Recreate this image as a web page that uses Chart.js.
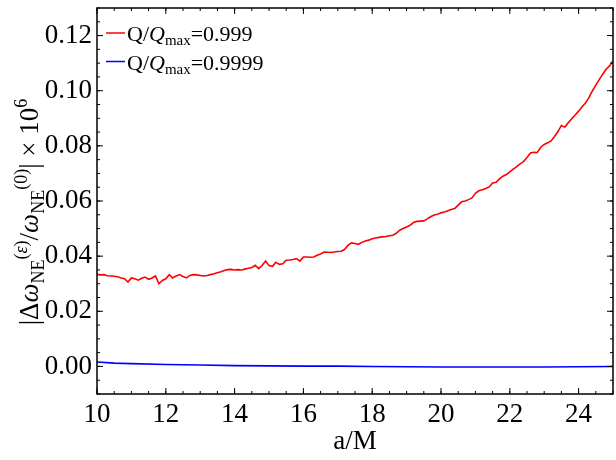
<!DOCTYPE html>
<html>
<head>
<meta charset="utf-8">
<script src="https://cdn.jsdelivr.net/npm/chart.js@4.4.1/dist/chart.umd.min.js"></script>
<style>
  html, body { margin: 0; padding: 0; background: #fff; }
  #chart { display: block; }
</style>
</head>
<body>
<canvas id="chart" width="616" height="460"></canvas>
<script>
// ---- data ----
const aStart = 10, aStep = 0.1;   // red series sampled every 0.1 in a/M
const redValues = [
  0.0334, 0.0332, 0.0333, 0.0329, 0.0328, 0.0327, 0.0325, 0.0321, 0.0318, 0.0306,
  0.0321, 0.0318, 0.0313, 0.0320, 0.0324, 0.0316, 0.0321, 0.0328, 0.0300, 0.0312,
  0.0318, 0.0333, 0.0321, 0.0328, 0.0333, 0.0326, 0.0321, 0.0330, 0.0333, 0.0332,
  0.0330, 0.0328, 0.0330, 0.0333, 0.0336, 0.0340, 0.0343, 0.0348, 0.0351, 0.0352,
  0.0350, 0.0351, 0.0350, 0.0353, 0.0356, 0.0359, 0.0367, 0.0355, 0.0366, 0.0382,
  0.0366, 0.0363, 0.0378, 0.0370, 0.0372, 0.0385, 0.0386, 0.0388, 0.0391, 0.0382,
  0.0397, 0.0397, 0.0396, 0.0397, 0.0403, 0.0408, 0.0415, 0.0414, 0.0413, 0.0415,
  0.0417, 0.0418, 0.0425, 0.0440, 0.0448, 0.0446, 0.0443, 0.0450, 0.0455, 0.0458,
  0.0463, 0.0466, 0.0468, 0.0470, 0.0471, 0.0474, 0.0476, 0.0483, 0.0494, 0.0500,
  0.0506, 0.0512, 0.0522, 0.0526, 0.0527, 0.0528, 0.0535, 0.0543, 0.0549, 0.0552,
  0.0557, 0.0560, 0.0565, 0.0569, 0.0573, 0.0585, 0.0597, 0.0600, 0.0605, 0.0611,
  0.0628, 0.0637, 0.0641, 0.0645, 0.0651, 0.0665, 0.0668, 0.0680, 0.0690, 0.0696,
  0.0706, 0.0716, 0.0725, 0.0735, 0.0743, 0.0758, 0.0774, 0.0777, 0.0776, 0.0795,
  0.0805, 0.0811, 0.0818, 0.0834, 0.0852, 0.0874, 0.0868, 0.0884, 0.0898, 0.0912,
  0.0926, 0.0942, 0.0955, 0.0975, 0.0999, 0.1020, 0.1040, 0.1060, 0.1078, 0.1090,
  0.1108
];
const blueA = [10, 10.5, 11, 12, 13, 14, 15, 16, 17, 18, 19, 20, 21, 22, 23, 24, 25];
const blueValues = [0.0016, 0.0012, 0.0010, 0.0007, 0.0005, 0.0003, 0.0002, 0.0001, 0.0001,
  0.0000, -0.0001, -0.0002, -0.0002, -0.0002, -0.0002, -0.0001, 0.0000];
const seriesRatios = ['0.999', '0.9999'];
const seriesColors = ['#ff0000', '#0000ff'];
const xTicks = [10, 12, 14, 16, 18, 20, 22, 24];
const yTicks = [0.00, 0.02, 0.04, 0.06, 0.08, 0.10, 0.12];
const xMin = 10, xMax = 25, yMin = -0.01, yMax = 0.13;
const xMinorStep = 0.5, yMinorStep = 0.005;

const SERIF = '"Liberation Serif", "DejaVu Serif", serif';

function drawRuns(ctx, runs, x, y) {
    let cx = x;
    runs.forEach(r => {
        ctx.font = r.font;
        ctx.fillText(r.text, cx, y + (r.dy || 0));
        cx += ctx.measureText(r.text).width;
    });
    return cx - x;
}

function runsWidth(ctx, runs) {
    let w = 0;
    runs.forEach(r => { ctx.font = r.font; w += ctx.measureText(r.text).width; });
    return w;
}

// inward ticks on all four sides + frame
const frameTicks = {
    id: 'frameTicks',
    afterDraw(chart) {
        const { ctx, chartArea: a, scales: { x, y } } = chart;
        ctx.save();
        ctx.strokeStyle = '#000';
        ctx.lineWidth = 1.5;
        ctx.strokeRect(a.left, a.top, a.right - a.left, a.bottom - a.top);
        ctx.lineWidth = 1;
        ctx.beginPath();
        const tick = (px, len, horiz) => {
            if (horiz) {
                ctx.moveTo(px, a.bottom); ctx.lineTo(px, a.bottom - len);
                ctx.moveTo(px, a.top); ctx.lineTo(px, a.top + len);
            } else {
                ctx.moveTo(a.left, px); ctx.lineTo(a.left + len, px);
                ctx.moveTo(a.right, px); ctx.lineTo(a.right - len, px);
            }
        };
        for (let k = Math.ceil(xMin / xMinorStep - 1e-9); k * xMinorStep <= xMax + 1e-9; k++) {
            tick(x.getPixelForValue(k * xMinorStep), 3, true);
        }
        xTicks.forEach(v => tick(x.getPixelForValue(v), 6, true));
        for (let k = Math.ceil(yMin / yMinorStep - 1e-9); k * yMinorStep <= yMax + 1e-9; k++) {
            tick(y.getPixelForValue(k * yMinorStep), 3, false);
        }
        yTicks.forEach(v => tick(y.getPixelForValue(v), 6, false));
        ctx.stroke();
        ctx.restore();
    }
};

// legend with italic Q and subscript "max"
const mathLegend = {
    id: 'mathLegend',
    afterDraw(chart) {
        const { ctx } = chart;
        ctx.save();
        ctx.fillStyle = '#000';
        ctx.textBaseline = 'alphabetic';
        seriesRatios.forEach((r, i) => {
            const ly = 33 + i * 28.5;
            ctx.strokeStyle = seriesColors[i];
            ctx.lineWidth = 1.5;
            ctx.beginPath();
            ctx.moveTo(106, ly); ctx.lineTo(125, ly);
            ctx.stroke();
            drawRuns(ctx, [
                { text: 'Q/', font: `22px ${SERIF}` },
                { text: 'Q', font: `italic 22px ${SERIF}` },
                { text: 'max', font: `15px ${SERIF}`, dy: 4 },
                { text: '=' + r, font: `22px ${SERIF}` }
            ], 127, ly + 8);
        });
        ctx.restore();
    }
};

// rotated y-axis title with sub/superscripts
const yTitle = {
    id: 'yTitle',
    afterDraw(chart) {
        const { ctx } = chart;
        const big = `27px ${SERIF}`, bigIt = `italic 27px ${SERIF}`;
        const sm = `18px ${SERIF}`, smIt = `italic 18px ${SERIF}`;
        const runs = [
            { text: '|Δ', font: big },
            { text: 'ω', font: bigIt },
            { text: 'NE', font: sm, dy: 6 },
            { text: '(', font: sm, dy: -11 },
            { text: 'ε', font: smIt, dy: -11 },
            { text: ')', font: sm, dy: -11 },
            { text: '/', font: big },
            { text: 'ω', font: bigIt },
            { text: 'NE', font: sm, dy: 6 },
            { text: '(0)', font: sm, dy: -11 },
            { text: '| × 10', font: big },
            { text: '6', font: sm, dy: -11 }
        ];
        ctx.save();
        ctx.fillStyle = '#000';
        ctx.textBaseline = 'alphabetic';
        ctx.translate(38, 212);
        ctx.rotate(-Math.PI / 2);
        const w = runsWidth(ctx, runs);
        drawRuns(ctx, runs, -w / 2, 0);
        ctx.restore();
    }
};

const redData = redValues.map((v, i) => ({ x: aStart + i * aStep, y: v }));
const blueData = blueValues.map((v, i) => ({ x: blueA[i], y: v }));

new Chart(document.getElementById('chart'), {
    type: 'line',
    data: {
        datasets: [
            { label: 'Q/Qmax=' + seriesRatios[0], data: redData, borderColor: seriesColors[0], borderWidth: 1.6, pointRadius: 0, tension: 0, fill: false },
            { label: 'Q/Qmax=' + seriesRatios[1], data: blueData, borderColor: seriesColors[1], borderWidth: 1.6, pointRadius: 0, tension: 0, fill: false }
        ]
    },
    options: {
        responsive: false,
        animation: false,
        layout: { padding: { left: 0, right: 3, top: 8, bottom: 0 } },
        plugins: { legend: { display: false }, tooltip: { enabled: false } },
        scales: {
            x: {
                type: 'linear', min: xMin, max: xMax,
                grid: { display: false, drawTicks: false },
                border: { display: false },
                afterBuildTicks: s => { s.ticks = xTicks.map(v => ({ value: v })); },
                afterFit: s => { s.height = 66; s.paddingLeft = 0; s.paddingRight = 0; },
                ticks: { color: '#000', font: { family: SERIF, size: 27 }, padding: 5, callback: v => String(v) },
                title: { display: true, text: 'a/M', color: '#000', font: { family: SERIF, size: 27 }, padding: { top: 0, bottom: 2 } }
            },
            y: {
                type: 'linear', min: yMin, max: yMax,
                grid: { display: false, drawTicks: false },
                border: { display: false },
                afterBuildTicks: s => { s.ticks = yTicks.map(v => ({ value: v })); },
                afterFit: s => { s.width = 97; s.paddingTop = 0; s.paddingBottom = 0; },
                ticks: { color: '#000', font: { family: SERIF, size: 27 }, padding: 5, callback: v => v.toFixed(2) }
            }
        }
    },
    plugins: [frameTicks, mathLegend, yTitle]
});
</script>
</body>
</html>
